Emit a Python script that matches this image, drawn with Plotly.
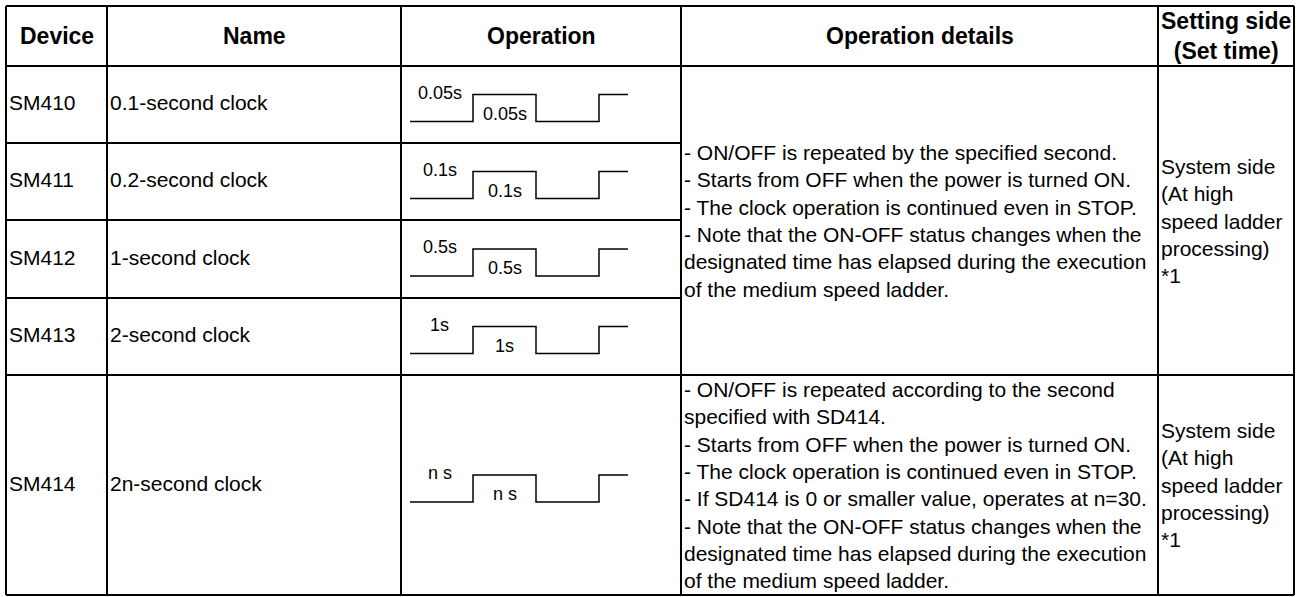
import plotly.graph_objects as go

# ---------------- data ----------------
headers = ["Device", "Name", "Operation", "Operation details", "Setting side<br>(Set time)"]
devices = ["SM410", "SM411", "SM412", "SM413", "SM414"]
names = ["0.1-second clock", "0.2-second clock", "1-second clock", "2-second clock", "2n-second clock"]
half_periods = ["0.05s", "0.1s", "0.5s", "1s", "n s"]

# clock signal shape: time in half-period units, level 0 = OFF, 1 = ON
clock_t = [0, 1, 1, 2, 2, 3, 3, 3.46]
clock_level = [0, 0, 1, 1, 0, 0, 1, 1]

details_fixed = [
    "- ON/OFF is repeated by the specified second.",
    "- Starts from OFF when the power is turned ON.",
    "- The clock operation is continued even in STOP.",
    "- Note that the ON-OFF status changes when the",
    "designated time has elapsed during the execution",
    "of the medium speed ladder.",
]
details_sd414 = [
    "- ON/OFF is repeated according to the second",
    "specified with SD414.",
    "- Starts from OFF when the power is turned ON.",
    "- The clock operation is continued even in STOP.",
    "- If SD414 is 0 or smaller value, operates at n=30.",
    "- Note that the ON-OFF status changes when the",
    "designated time has elapsed during the execution",
    "of the medium speed ladder.",
]
setting_text = ["System side", "(At high", "speed ladder", "processing)", "*1"]

# ---------------- layout constants ----------------
W, H = 1299, 597
col_edges = [6, 107, 401, 681, 1158, 1294]
row_edges = [6, 66, 143, 220, 298, 375, 595]
FONT = "Liberation Sans, Arial, Helvetica, sans-serif"
FS = 21
HEADER_FS = 23
LABEL_FS = 18
WAVE_X0 = 410
WAVE_UNIT = 63

fig = go.Figure()

# table grid
gx, gy = [], []
for y in [row_edges[0], row_edges[1], row_edges[5], row_edges[6]]:
    gx += [col_edges[0], col_edges[-1], None]
    gy += [y, y, None]
for y in row_edges[2:5]:
    gx += [col_edges[0], col_edges[3], None]
    gy += [y, y, None]
for x in col_edges:
    gx += [x, x, None]
    gy += [row_edges[0], row_edges[-1], None]
fig.add_trace(go.Scatter(x=gx, y=gy, mode="lines", line=dict(color="black", width=2),
                         hoverinfo="skip", showlegend=False))

annotations = []

def txt(x, y, text, anchor="left", bold=False, size=FS, align="left", xref="x", yref="y", yshift=0):
    annotations.append(dict(
        x=x, y=y, xref=xref, yref=yref, text=("<b>%s</b>" % text) if bold else text,
        showarrow=False, xanchor=anchor, yanchor="middle", align=align, yshift=yshift,
        font=dict(family=FONT, size=size, color="black"),
    ))

# headers
hy = (row_edges[0] + row_edges[1]) / 2
for i, h in enumerate(headers):
    cx = (col_edges[i] + col_edges[i + 1]) / 2
    txt(cx, hy, h, anchor="center", bold=True, align="center", size=HEADER_FS)

# device / name cells
for i in range(5):
    cy = (row_edges[i + 1] + row_edges[i + 2]) / 2 - 2
    txt(col_edges[0] + 1, cy, devices[i])
    txt(col_edges[1] + 1, cy, names[i])

# merged detail / setting cells
mc = (row_edges[1] + row_edges[5]) / 2
txt(col_edges[3] + 1, mc, "<br>".join(details_fixed))
txt(col_edges[4] + 1, mc, "<br>".join(setting_text))
bc = (row_edges[5] + row_edges[6]) / 2
txt(col_edges[3] + 1, bc, "<br>".join(details_sd414))
txt(col_edges[4] + 1, bc, "<br>".join(setting_text))

# waveforms, each on its own pair of axes placed in the Operation cell
layout_axes = {}
for i in range(5):
    k = i + 2
    c = (row_edges[i + 1] + row_edges[i + 2]) / 2
    hi, lo = c - 10, c + 17
    amp = lo - hi
    pad = 0.25
    ybot = lo + pad * amp
    ytop = hi - pad * amp
    xlen = max(clock_t)
    layout_axes["xaxis%d" % k] = dict(domain=[WAVE_X0 / W, (WAVE_X0 + xlen * WAVE_UNIT) / W],
                                      range=[0, xlen], visible=False, anchor="y%d" % k, fixedrange=True)
    layout_axes["yaxis%d" % k] = dict(domain=[1 - ybot / H, 1 - ytop / H], range=[-pad, 1 + pad],
                                      visible=False, anchor="x%d" % k, fixedrange=True)
    fig.add_trace(go.Scatter(x=clock_t, y=clock_level, mode="lines",
                             line=dict(color="black", width=1.5, shape="linear"),
                             xaxis="x%d" % k, yaxis="y%d" % k, hoverinfo="skip", showlegend=False))
    txt(0.47, 1, half_periods[i], anchor="center", size=LABEL_FS, xref="x%d" % k, yref="y%d" % k, yshift=2)
    txt(1.5, 0, half_periods[i], anchor="center", size=LABEL_FS, xref="x%d" % k, yref="y%d" % k, yshift=8)

fig.update_layout(
    width=W, height=H,
    margin=dict(l=0, r=0, t=0, b=0),
    paper_bgcolor="white", plot_bgcolor="white",
    xaxis=dict(range=[0, W], domain=[0, 1], visible=False, fixedrange=True),
    yaxis=dict(range=[H, 0], domain=[0, 1], visible=False, fixedrange=True),
    annotations=annotations,
    showlegend=False,
    **layout_axes,
)

fig.write_html("out.html", config={"displayModeBar": False},
               post_script="document.body.style.margin='0';")
